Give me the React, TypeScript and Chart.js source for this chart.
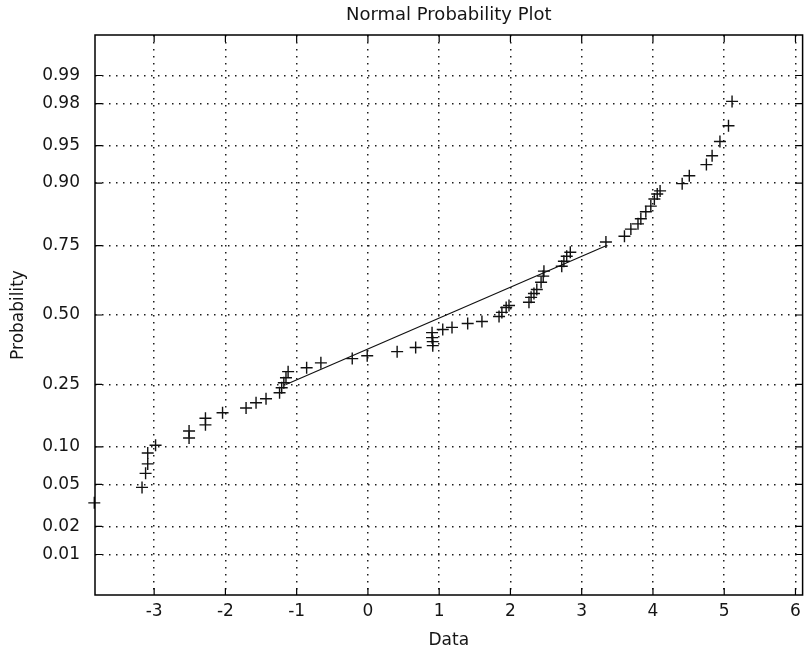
import React, { useEffect, useRef } from "react";
import { Chart, registerables } from "chart.js";

Chart.register(...registerables);

// Sorted sample values (x) and their plotted probabilities (y)
const dataValues = [
  -3.84, -3.17, -3.12, -3.09, -3.09, -2.98, -2.51, -2.51, -2.28, -2.28,
  -2.04, -1.71, -1.57, -1.43, -1.24, -1.21, -1.18, -1.15, -1.12, -0.86,
  -0.66, -0.22, -0.01, 0.41, 0.67, 0.91, 0.91, 0.9, 0.9, 1.05,
  1.18, 1.4, 1.6, 1.84, 1.88, 1.94, 1.98, 2.26, 2.29, 2.33,
  2.37, 2.43, 2.46, 2.47, 2.72, 2.75, 2.79, 2.84, 3.34, 3.6,
  3.69, 3.79, 3.83, 3.9, 3.97, 4.02, 4.06, 4.1, 4.41, 4.51,
  4.75, 4.83, 4.94, 5.06, 5.11,
];
const probabilities = [
  0.034, 0.047, 0.062, 0.074, 0.09, 0.103, 0.116, 0.13, 0.143, 0.158,
  0.171, 0.183, 0.197, 0.208, 0.225, 0.24, 0.255, 0.271, 0.291, 0.304,
  0.321, 0.336, 0.346, 0.361, 0.376, 0.383, 0.398, 0.413, 0.432, 0.444,
  0.452, 0.467, 0.475, 0.494, 0.51, 0.529, 0.537, 0.549, 0.568, 0.583,
  0.598, 0.625, 0.647, 0.665, 0.682, 0.699, 0.716, 0.729, 0.761, 0.778,
  0.798, 0.812, 0.825, 0.842, 0.855, 0.87, 0.88, 0.886, 0.899, 0.912,
  0.928, 0.939, 0.954, 0.967, 0.981,
];
// Reference line through the quartiles
const refLineX = [-1.15, 3.35];
const refLineP = [0.25, 0.75];

const probTicks = [0.01, 0.02, 0.05, 0.1, 0.25, 0.5, 0.75, 0.9, 0.95, 0.98, 0.99];
const probTickLabels = ["0.01", "0.02", "0.05", "0.10", "0.25", "0.50", "0.75", "0.90", "0.95", "0.98", "0.99"];
const dataTicks = [-3, -2, -1, 0, 1, 2, 3, 4, 5, 6];

const TITLE = "Normal Probability Plot";
const X_TITLE = "Data";
const Y_TITLE = "Probability";

// Inverse standard normal CDF (Acklam) – maps probabilities onto the probability-paper scale
function normInv(p: number): number {
  const a = [-3.969683028665376e1, 2.209460984245205e2, -2.759285104469687e2, 1.38357751867269e2, -3.066479806614716e1, 2.506628277459239];
  const b = [-5.447609879822406e1, 1.615858368580409e2, -1.556989798598866e2, 6.680131188771972e1, -1.328068155288572e1];
  const c = [-7.784894002430293e-3, -3.223964580411365e-1, -2.400758277161838, -2.549732539343734, 4.374664141464968, 2.938163982698783];
  const d = [7.784695709041462e-3, 3.224671290700398e-1, 2.445134137142996, 3.754408661907416];
  const plow = 0.02425;
  const phigh = 1 - plow;
  if (p < plow) {
    const q = Math.sqrt(-2 * Math.log(p));
    return (((((c[0] * q + c[1]) * q + c[2]) * q + c[3]) * q + c[4]) * q + c[5]) / ((((d[0] * q + d[1]) * q + d[2]) * q + d[3]) * q + 1);
  }
  if (p <= phigh) {
    const q = p - 0.5;
    const r = q * q;
    return ((((((a[0] * r + a[1]) * r + a[2]) * r + a[3]) * r + a[4]) * r + a[5]) * q) / (((((b[0] * r + b[1]) * r + b[2]) * r + b[3]) * r + b[4]) * r + 1);
  }
  const q = Math.sqrt(-2 * Math.log(1 - p));
  return -(((((c[0] * q + c[1]) * q + c[2]) * q + c[3]) * q + c[4]) * q + c[5]) / ((((d[0] * q + d[1]) * q + d[2]) * q + d[3]) * q + 1);
}

const FONT = "'DejaVu Sans', sans-serif";
const TEXT_COLOR = "#151515";
const CANVAS_W = 810; // a few px wider than the window so the frame's right edge sits at the window edge
const CANVAS_H = 656;

const framePlugin = {
  id: "frameTicks",
  afterDatasetsDraw(chart: any) {
    const { ctx, chartArea, scales } = chart;
    const { left, right, top, bottom } = chartArea;
    ctx.save();
    ctx.strokeStyle = "#000";
    ctx.lineWidth = 1.5;
    ctx.setLineDash([]);
    ctx.strokeRect(left, top, right - left, bottom - top);
    ctx.lineWidth = 1.2;
    const tl = 7;
    ctx.beginPath();
    scales.x.ticks.forEach((t: any) => {
      const px = scales.x.getPixelForValue(t.value);
      ctx.moveTo(px, bottom);
      ctx.lineTo(px, bottom - tl);
      ctx.moveTo(px, top);
      ctx.lineTo(px, top + tl);
    });
    scales.y.ticks.forEach((t: any) => {
      const py = scales.y.getPixelForValue(t.value);
      ctx.moveTo(left, py);
      ctx.lineTo(left + tl, py);
      ctx.moveTo(right, py);
      ctx.lineTo(right - tl, py);
    });
    ctx.stroke();
    // title centred over the axes box
    ctx.fillStyle = TEXT_COLOR;
    ctx.font = `18px ${FONT}`;
    ctx.textAlign = "center";
    ctx.textBaseline = "middle";
    ctx.fillText(TITLE, (left + right) / 2, 15);
    ctx.restore();
  },
};

export default function App() {
  const canvasRef = useRef<HTMLCanvasElement | null>(null);

  useEffect(() => {
    if (!canvasRef.current) return;
    const points = dataValues.map((x, i) => ({ x, y: normInv(probabilities[i]) }));
    const line = refLineX.map((x, i) => ({ x, y: normInv(refLineP[i]) }));
    const gridOpts = { color: "#1e1e1e", lineWidth: 1.5, drawTicks: false };
    const borderOpts = { display: false, dash: [1.5, 5.5] };

    const chart = new Chart(canvasRef.current, {
      type: "scatter",
      data: {
        datasets: [
          {
            label: "data",
            data: points,
            pointStyle: "cross",
            pointRadius: 6,
            pointBorderWidth: 1.4,
            borderColor: "#111",
            backgroundColor: "#111",
            showLine: false,
            clip: false as any,
          },
          {
            label: "fit",
            data: line,
            showLine: true,
            borderColor: "#111",
            borderWidth: 1.2,
            pointRadius: 0,
          },
        ],
      },
      options: {
        responsive: false,
        animation: false,
        layout: { padding: { left: 0, right: 1, top: 35, bottom: 0 } },
        plugins: {
          legend: { display: false },
          tooltip: { enabled: false },
          title: { display: false },
        },
        scales: {
          x: {
            type: "linear",
            min: -3.83,
            max: 6.1,
            afterBuildTicks: (s: any) => {
              s.ticks = dataTicks.map((v) => ({ value: v }));
            },
            afterFit: (s: any) => {
              s.height = 61;
            },
            grid: gridOpts,
            border: borderOpts,
            ticks: {
              autoSkip: false,
              maxRotation: 0,
              padding: 6,
              color: TEXT_COLOR,
              font: { family: FONT, size: 17 },
              callback: (v: any) => String(v),
            },
            title: {
              display: true,
              text: X_TITLE,
              color: TEXT_COLOR,
              font: { family: FONT, size: 17 },
              padding: { top: 0, bottom: 5 },
            },
          },
          y: {
            type: "linear",
            min: -2.72,
            max: 2.72,
            afterBuildTicks: (s: any) => {
              s.ticks = probTicks.map((p) => ({ value: normInv(p) }));
            },
            afterFit: (s: any) => {
              s.width = 95;
            },
            grid: gridOpts,
            border: borderOpts,
            ticks: {
              autoSkip: false,
              padding: 15,
              color: TEXT_COLOR,
              font: { family: FONT, size: 17 },
              callback: (_v: any, i: number) => probTickLabels[i],
            },
            title: {
              display: true,
              text: Y_TITLE,
              color: TEXT_COLOR,
              font: { family: FONT, size: 17 },
              padding: { top: 8, bottom: 0 },
            },
          },
        },
      } as any,
      plugins: [framePlugin],
    });
    return () => chart.destroy();
  }, []);

  return (
    <div style={{ position: "fixed", left: 0, top: 0, width: 804, height: 656, overflow: "hidden", background: "#fff" }}>
      <canvas ref={canvasRef} width={CANVAS_W} height={CANVAS_H} style={{ display: "block", width: CANVAS_W, height: CANVAS_H }} />
    </div>
  );
}
